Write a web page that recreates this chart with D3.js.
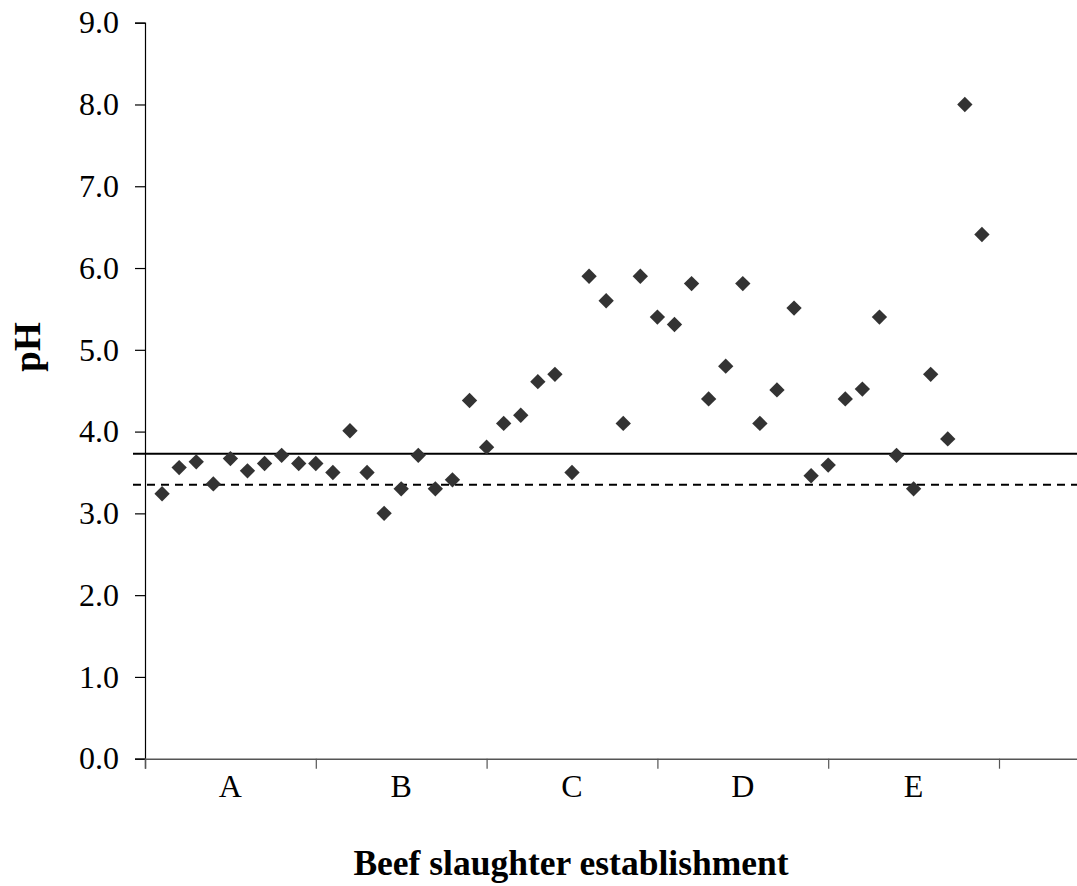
<!DOCTYPE html>
<html>
<head>
<meta charset="utf-8">
<script src="https://cdn.jsdelivr.net/npm/d3@7"></script>
<style>
  html, body { margin: 0; padding: 0; background: #fff; }
  svg { display: block; }
</style>
</head>
<body>
<svg id="chart" width="1077" height="886"></svg>
<script>
// ---- data ----
const categories = ["A", "B", "C", "D", "E"];
const sampleIndex = d3.range(1, 50);
const phValues = [
  3.24, 3.56, 3.63, 3.36, 3.67, 3.52, 3.61, 3.71, 3.61, 3.61,
  3.50, 4.01, 3.50, 3.00, 3.30, 3.71, 3.30, 3.41, 4.38, 3.81,
  4.10, 4.20, 4.61, 4.70, 3.50, 5.90, 5.60, 4.10, 5.90, 5.40,
  5.31, 5.81, 4.40, 4.80, 5.81, 4.10, 4.51, 5.51, 3.46, 3.59,
  4.40, 4.52, 5.40, 3.71, 3.30, 4.70, 3.91, 8.00, 6.41
];
const yTicks = [0, 1, 2, 3, 4, 5, 6, 7, 8, 9];
const xTicks = [0, 10, 20, 30, 40, 50];
const categoryCenters = [5, 15, 25, 35, 45];
const solidRef = 3.73;
const dashedRef = 3.35;

// ---- layout ----
const svg = d3.select("#chart");
const x = d3.scaleLinear().domain([0, 55]).range([145, 145 + 55 * 17.08]);
const y = d3.scaleLinear().domain([0, 9]).range([758.7, 22.7]);
const serif = "'Liberation Serif', 'Times New Roman', serif";

// y axis
const yAxis = svg.append("g")
  .attr("transform", `translate(${x(0)},0)`)
  .call(d3.axisLeft(y).tickValues(yTicks).tickSize(10).tickPadding(16)
    .tickFormat(d3.format(".1f")));
yAxis.select(".domain").attr("stroke", "#000").attr("stroke-width", 1.2);
yAxis.selectAll(".tick line").attr("stroke", "#000").attr("stroke-width", 1.2);
yAxis.selectAll(".tick text")
  .attr("font-family", serif).attr("font-size", 32).attr("fill", "#000");

// x axis
const xAxis = svg.append("g")
  .attr("transform", `translate(0,${y(0)})`)
  .call(d3.axisBottom(x).tickValues(xTicks).tickSize(10).tickFormat(""));
xAxis.select(".domain").attr("stroke", "#555").attr("stroke-width", 1.5);
xAxis.selectAll(".tick line").attr("stroke", "#555").attr("stroke-width", 1.2);

// category labels
svg.append("g").selectAll("text")
  .data(categories)
  .join("text")
  .attr("x", (d, i) => x(categoryCenters[i]))
  .attr("y", 797)
  .attr("text-anchor", "middle")
  .attr("font-family", serif)
  .attr("font-size", 32)
  .attr("fill", "#000")
  .text(d => d);

// reference lines
svg.append("line")
  .attr("x1", 133).attr("x2", 1077)
  .attr("y1", y(solidRef)).attr("y2", y(solidRef))
  .attr("stroke", "#000").attr("stroke-width", 2);
svg.append("line")
  .attr("x1", 133).attr("x2", 1077)
  .attr("y1", y(dashedRef)).attr("y2", y(dashedRef))
  .attr("stroke", "#000").attr("stroke-width", 2)
  .attr("stroke-dasharray", "8,6");

// points
const diamond = d3.symbol().type(d3.symbolDiamond2).size(150);
svg.append("g").selectAll("path")
  .data(phValues)
  .join("path")
  .attr("d", diamond)
  .attr("transform", (d, i) => `translate(${x(sampleIndex[i])},${y(d)})`)
  .attr("fill", "#333");

// axis titles
svg.append("text")
  .attr("transform", `translate(${40},${347}) rotate(-90)`)
  .attr("text-anchor", "middle")
  .attr("font-family", serif)
  .attr("font-weight", "bold")
  .attr("font-size", 37)
  .text("pH");

svg.append("text")
  .attr("x", 571)
  .attr("y", 875)
  .attr("text-anchor", "middle")
  .attr("font-family", serif)
  .attr("font-weight", "bold")
  .attr("font-size", 35.5)
  .text("Beef slaughter establishment");
</script>
</body>
</html>
